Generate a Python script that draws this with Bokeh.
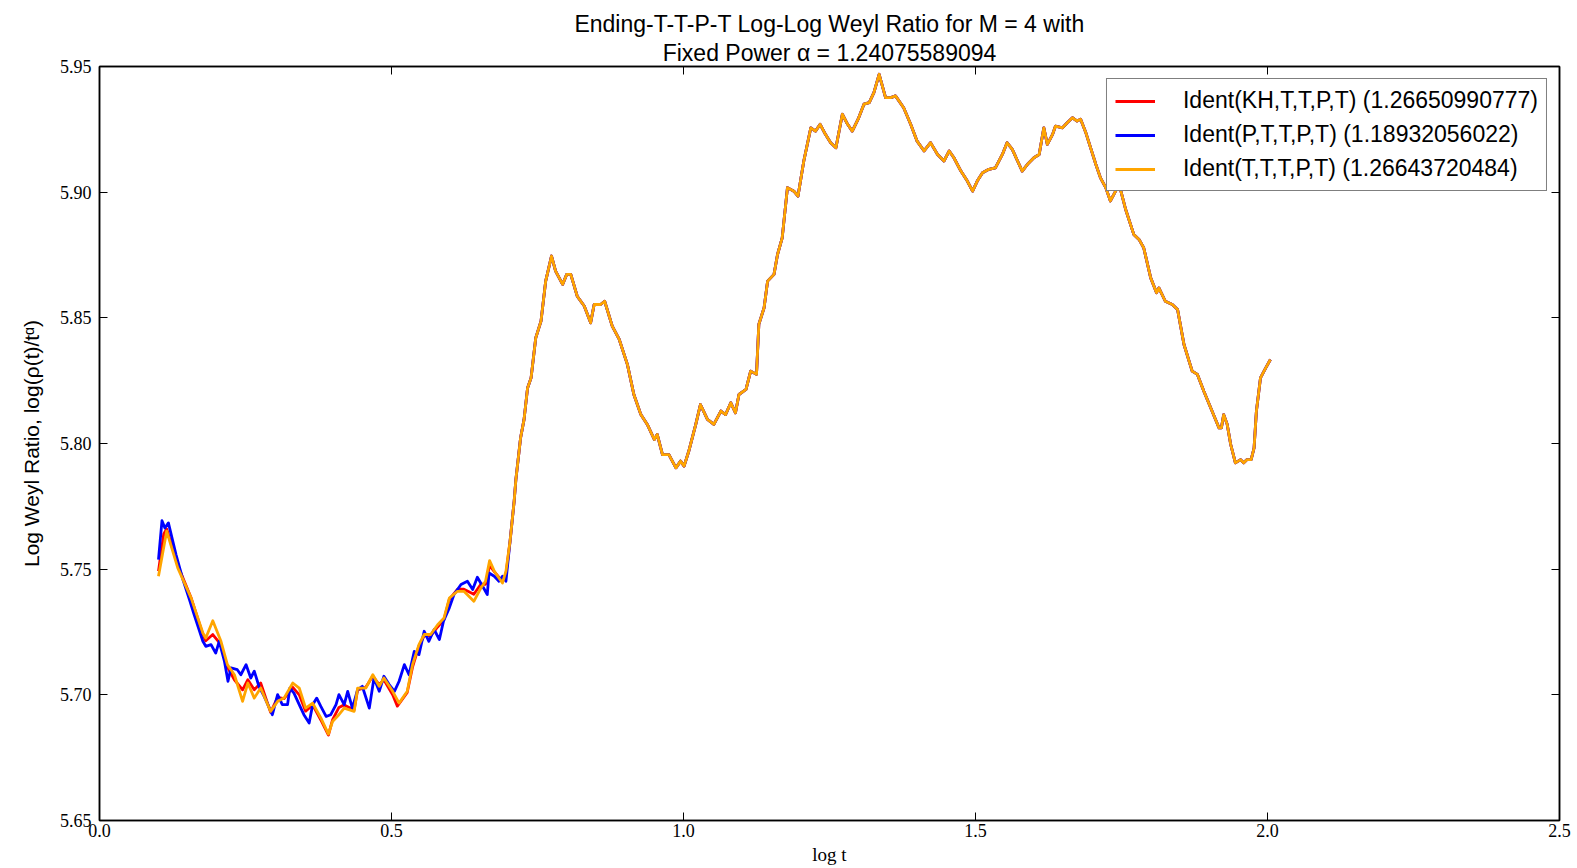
from bokeh.plotting import figure
from bokeh.models import Range1d, FixedTicker, LinearAxis, Legend, LegendItem, Title
from bokeh.embed import file_html
from bokeh.resources import INLINE

# ---------------- data ----------------
x_ticks = [0.0, 0.5, 1.0, 1.5, 2.0, 2.5]
x_tick_labels = ["0.0", "0.5", "1.0", "1.5", "2.0", "2.5"]
y_ticks = [5.65, 5.70, 5.75, 5.80, 5.85, 5.90, 5.95]
y_tick_labels = ["5.65", "5.70", "5.75", "5.80", "5.85", "5.90", "5.95"]

title_lines = [
    "Ending-T-T-P-T Log-Log Weyl Ratio for M = 4 with",
    "Fixed Power \u03b1 = 1.24075589094",
]

series_labels = [
    "Ident(KH,T,T,P,T) (1.26650990777)",
    "Ident(P,T,T,P,T) (1.18932056022)",
    "Ident(T,T,T,P,T) (1.26643720484)",
]
series_colors = ["#ff0000", "#0000ff", "#ffa500"]

# early part (log t < 0.7) where the three curves differ
red_head_x = [0.101, 0.110, 0.115, 0.134, 0.157, 0.177, 0.182, 0.194, 0.208, 0.219,
              0.231, 0.245, 0.254, 0.265, 0.276, 0.293, 0.305, 0.316, 0.331, 0.342,
              0.353, 0.365, 0.379, 0.392, 0.399, 0.410, 0.419, 0.436, 0.442, 0.456,
              0.468, 0.479, 0.487, 0.502, 0.510, 0.527, 0.536, 0.547, 0.556, 0.567,
              0.579, 0.590, 0.599, 0.613, 0.624, 0.641, 0.653, 0.661, 0.668, 0.676,
              0.690, 0.696]
red_head_y = [5.7492, 5.7640, 5.7660, 5.7515, 5.7385, 5.7240, 5.7215, 5.7240, 5.7200, 5.7110,
              5.7060, 5.7020, 5.7060, 5.7020, 5.7047, 5.6930, 5.6990, 5.6985, 5.7030, 5.7000,
              5.6935, 5.6960, 5.6900, 5.6840, 5.6900, 5.6950, 5.6960, 5.6940, 5.7020, 5.7030,
              5.7075, 5.7040, 5.7060, 5.7000, 5.6955, 5.7010, 5.7110, 5.7195, 5.7235, 5.7235,
              5.7270, 5.7300, 5.7380, 5.7420, 5.7420, 5.7400, 5.7440, 5.7440, 5.7515, 5.7490,
              5.7450, 5.7480]

blue_head_x = [0.101, 0.107, 0.112, 0.118, 0.131, 0.142, 0.154, 0.162, 0.177, 0.182,
               0.191, 0.199, 0.205, 0.214, 0.220, 0.225, 0.236, 0.242, 0.251, 0.259,
               0.265, 0.273, 0.282, 0.296, 0.305, 0.313, 0.322, 0.326, 0.333, 0.342,
               0.350, 0.359, 0.365, 0.372, 0.379, 0.388, 0.396, 0.405, 0.410, 0.419,
               0.425, 0.433, 0.442, 0.450, 0.462, 0.470, 0.479, 0.487, 0.496, 0.505,
               0.513, 0.522, 0.530, 0.539, 0.547, 0.556, 0.564, 0.573, 0.582, 0.589,
               0.599, 0.607, 0.619, 0.630, 0.639, 0.647, 0.656, 0.664, 0.667, 0.676,
               0.684, 0.690, 0.696]
blue_head_y = [5.7538, 5.7693, 5.7664, 5.7684, 5.7558, 5.7465, 5.7379, 5.7319, 5.7213, 5.7193,
               5.7200, 5.7166, 5.7213, 5.7133, 5.7054, 5.7107, 5.7100, 5.7080, 5.7120, 5.7067,
               5.7094, 5.7034, 5.6994, 5.6921, 5.7001, 5.6961, 5.6961, 5.7027, 5.7007, 5.6961,
               5.6921, 5.6888, 5.6961, 5.6987, 5.6954, 5.6914, 5.6921, 5.6961, 5.7001, 5.6961,
               5.7014, 5.6947, 5.7021, 5.7034, 5.6947, 5.7067, 5.7014, 5.7074, 5.7041, 5.7014,
               5.7054, 5.7120, 5.7080, 5.7173, 5.7160, 5.7253, 5.7213, 5.7260, 5.7220, 5.7293,
               5.7346, 5.7399, 5.7439, 5.7452, 5.7419, 5.7468, 5.7432, 5.7399, 5.7485, 5.7472,
               5.7452, 5.7472, 5.7452]

orange_head_x = [0.101, 0.115, 0.134, 0.157, 0.177, 0.182, 0.194, 0.208, 0.219, 0.231,
                 0.245, 0.254, 0.265, 0.276, 0.293, 0.305, 0.316, 0.331, 0.342, 0.353,
                 0.365, 0.379, 0.392, 0.399, 0.410, 0.419, 0.436, 0.442, 0.456, 0.468,
                 0.479, 0.487, 0.502, 0.513, 0.527, 0.536, 0.547, 0.556, 0.567, 0.579,
                 0.590, 0.599, 0.613, 0.624, 0.641, 0.653, 0.661, 0.668, 0.676, 0.690,
                 0.696]
orange_head_y = [5.7472, 5.7651, 5.7505, 5.7385, 5.7246, 5.7226, 5.7295, 5.7213, 5.7120, 5.7080,
                 5.6974, 5.7047, 5.6987, 5.7027, 5.6934, 5.6974, 5.6987, 5.7047, 5.7027, 5.6947,
                 5.6967, 5.6908, 5.6844, 5.6894, 5.6921, 5.6947, 5.6934, 5.7027, 5.7027, 5.7080,
                 5.7034, 5.7067, 5.7014, 5.6967, 5.7014, 5.7120, 5.7200, 5.7240, 5.7240, 5.7279,
                 5.7306, 5.7385, 5.7412, 5.7412, 5.7372, 5.7425, 5.7452, 5.7534, 5.7492, 5.7445,
                 5.7492]

# later part (log t >= 0.7) where the three curves coincide
tail_x = [0.703, 0.710, 0.713, 0.721, 0.727, 0.733, 0.739, 0.747, 0.756, 0.764,
          0.774, 0.781, 0.793, 0.800, 0.807, 0.818, 0.830, 0.841, 0.847, 0.858,
          0.865, 0.878, 0.890, 0.904, 0.915, 0.927, 0.938, 0.950, 0.955, 0.964,
          0.975, 0.987, 0.995, 1.001, 1.009, 1.021, 1.029, 1.041, 1.052, 1.064,
          1.072, 1.081, 1.089, 1.095, 1.107, 1.115, 1.125, 1.129, 1.138, 1.144,
          1.155, 1.161, 1.169, 1.178, 1.189, 1.196, 1.206, 1.218, 1.226, 1.234,
          1.243, 1.252, 1.261, 1.272, 1.281, 1.289, 1.300, 1.309, 1.318, 1.326,
          1.335, 1.346, 1.355, 1.363, 1.377, 1.389, 1.400, 1.412, 1.423, 1.435,
          1.446, 1.455, 1.463, 1.475, 1.486, 1.495, 1.503, 1.512, 1.523, 1.534,
          1.546, 1.554, 1.563, 1.572, 1.580, 1.589, 1.600, 1.609, 1.617, 1.623,
          1.632, 1.637, 1.649, 1.657, 1.666, 1.674, 1.680, 1.689, 1.697, 1.706,
          1.714, 1.723, 1.731, 1.746, 1.757, 1.771, 1.780, 1.788, 1.800, 1.810,
          1.814, 1.825, 1.837, 1.846, 1.857, 1.871, 1.880, 1.891, 1.905, 1.917,
          1.921, 1.925, 1.931, 1.937, 1.945, 1.954, 1.959, 1.965, 1.972, 1.977,
          1.981, 1.988, 1.997, 2.005]
tail_y = [5.7611, 5.7770, 5.7857, 5.8022, 5.8096, 5.8221, 5.8261, 5.8420, 5.8487, 5.8646,
          5.8746, 5.8686, 5.8633, 5.8673, 5.8673, 5.8586, 5.8547, 5.8480, 5.8553, 5.8553,
          5.8566, 5.8467, 5.8414, 5.8314, 5.8195, 5.8115, 5.8076, 5.8016, 5.8036, 5.7956,
          5.7956, 5.7903, 5.7930, 5.7910, 5.7969, 5.8076, 5.8155, 5.8096, 5.8076, 5.8129,
          5.8115, 5.8162, 5.8122, 5.8195, 5.8215, 5.8288, 5.8275, 5.8474, 5.8540, 5.8646,
          5.8673, 5.8752, 5.8818, 5.9018, 5.9004, 5.8984, 5.9124, 5.9256, 5.9243, 5.9270,
          5.9230, 5.9197, 5.9177, 5.9310, 5.9270, 5.9243, 5.9296, 5.9350, 5.9356, 5.9396,
          5.9469, 5.9376, 5.9376, 5.9383, 5.9336, 5.9270, 5.9203, 5.9164, 5.9197, 5.9150,
          5.9124, 5.9164, 5.9137, 5.9084, 5.9044, 5.9004, 5.9044, 5.9077, 5.9091, 5.9097,
          5.9150, 5.9197, 5.9170, 5.9124, 5.9084, 5.9111, 5.9137, 5.9150, 5.9256, 5.9190,
          5.9230, 5.9263, 5.9256, 5.9276, 5.9296, 5.9283, 5.9290, 5.9236, 5.9177, 5.9111,
          5.9057, 5.9018, 5.8965, 5.9031, 5.8932, 5.8832, 5.8812, 5.8779, 5.8659, 5.8600,
          5.8619, 5.8566, 5.8553, 5.8533, 5.8394, 5.8288, 5.8275, 5.8208, 5.8129, 5.8062,
          5.8062, 5.8115, 5.8076, 5.7996, 5.7923, 5.7936, 5.7923, 5.7936, 5.7936, 5.7982,
          5.8129, 5.8261, 5.8301, 5.8334]

# ---------------- figure ----------------
SANS = "Liberation Sans"
SERIF = "Liberation Serif"

p = figure(
    title=None,
    frame_width=1460, frame_height=754,
    x_range=Range1d(0.0, 2.5), y_range=Range1d(5.65, 5.95),
    output_backend="svg", toolbar_location=None,
    min_border_left=99, min_border_right=12, min_border_top=66, min_border_bottom=36,
    background_fill_color="white", border_fill_color="white",
)

p.xgrid.grid_line_color = None
p.ygrid.grid_line_color = None
p.outline_line_color = "black"
p.outline_line_width = 1.5

for ax in (p.xaxis[0], p.yaxis[0]):
    ax.major_tick_in = 8
    ax.major_tick_out = 0
    ax.minor_tick_in = 0
    ax.minor_tick_out = 0
    ax.axis_line_color = "black"
    ax.axis_line_width = 1.5
    ax.major_tick_line_color = "black"
    ax.major_label_text_font = SERIF
    ax.major_label_text_font_size = "18px"
    ax.major_label_text_color = "black"
    ax.axis_label_text_color = "black"
    ax.axis_label_text_font_style = "normal"

p.xaxis[0].ticker = FixedTicker(ticks=x_ticks)
p.xaxis[0].major_label_overrides = {t: l for t, l in zip(x_ticks, x_tick_labels)}
p.xaxis[0].major_label_standoff = 3
p.xaxis[0].axis_label = "log t"
p.xaxis[0].axis_label_text_font = SERIF
p.xaxis[0].axis_label_text_font_size = "19px"
p.xaxis[0].axis_label_standoff = 4

p.yaxis[0].ticker = FixedTicker(ticks=y_ticks)
p.yaxis[0].major_label_overrides = {t: l for t, l in zip(y_ticks, y_tick_labels)}
p.yaxis[0].major_label_standoff = 8
p.yaxis[0].axis_label = "Log Weyl Ratio, log(\u03c1(t)/t\u1d45)"
p.yaxis[0].axis_label_text_font = SANS
p.yaxis[0].axis_label_text_font_size = "21px"
p.yaxis[0].axis_label_standoff = 14

# ticks on the top and right spines (labels not painted)
top = LinearAxis(ticker=FixedTicker(ticks=x_ticks), major_label_text_color=None,
                 major_label_text_font_size="2px", major_label_standoff=0,
                 major_tick_in=8, major_tick_out=0, minor_tick_in=0, minor_tick_out=0,
                 axis_line_width=1.5)
right = LinearAxis(ticker=FixedTicker(ticks=y_ticks), major_label_text_color=None,
                   major_label_text_font_size="2px", major_label_standoff=0,
                   major_tick_in=8, major_tick_out=0, minor_tick_in=0, minor_tick_out=0,
                   axis_line_width=1.5)
p.add_layout(top, "above")
p.add_layout(right, "right")

# two-line title, each line centred (added closest-first)
p.add_layout(Title(text=title_lines[1], align="center", text_font=SANS,
                   text_font_style="normal", text_font_size="23px",
                   text_color="black", standoff=2), "above")
p.add_layout(Title(text=title_lines[0], align="center", text_font=SANS,
                   text_font_style="normal", text_font_size="23px",
                   text_color="black", standoff=0), "above")

heads_x = [red_head_x, blue_head_x, orange_head_x]
heads_y = [red_head_y, blue_head_y, orange_head_y]
renderers = []
for hx, hy, col in zip(heads_x, heads_y, series_colors):
    r = p.line(hx + tail_x, hy + tail_y, line_color=col, line_width=2.8, line_join="round")
    renderers.append(r)

legend = Legend(
    items=[LegendItem(label=lab, renderers=[r]) for lab, r in zip(series_labels, renderers)],
    location="top_right",
    label_text_font=SANS, label_text_font_size="23px", label_text_color="black",
    glyph_width=40, glyph_height=24, label_height=26, label_standoff=28,
    padding=8, spacing=7, margin=12,
    border_line_color="black", border_line_width=1.5,
    background_fill_color="white", background_fill_alpha=1.0,
)
p.add_layout(legend)

open("out.html", "w").write(file_html(p, INLINE))
